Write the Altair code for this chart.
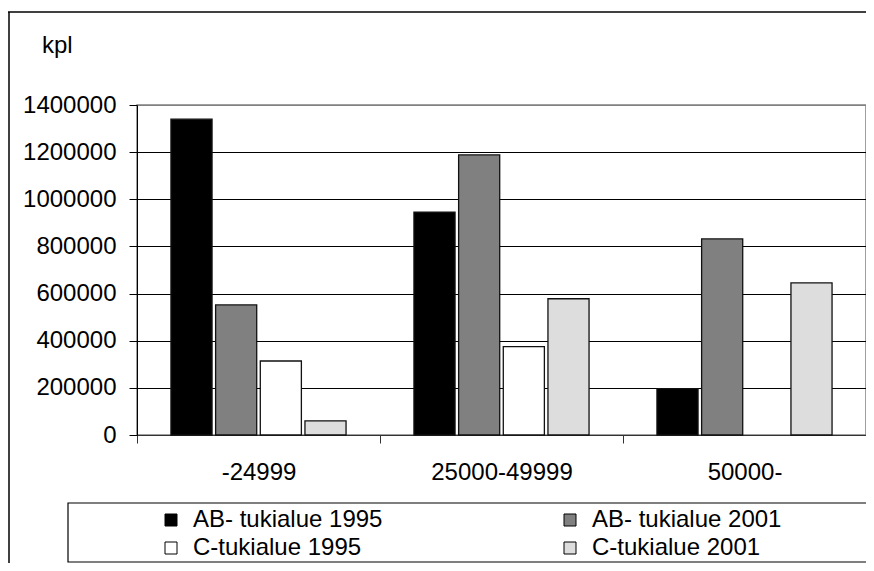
import altair as alt
import pandas as pd

categories = ["-24999", "25000-49999", "50000-"]
series = ["AB- tukialue 1995", "AB- tukialue 2001", "C-tukialue 1995", "C-tukialue 2001"]
ab_1995 = [1340000, 945000, 197000]
ab_2001 = [552000, 1188000, 832000]
c_1995 = [314000, 375000, None]
c_2001 = [60000, 578000, 645000]
colors = ["#000000", "#808080", "#ffffff", "#dddddd"]
y_ticks = [0, 200000, 400000, 600000, 800000, 1000000, 1200000, 1400000]
unit_label = ["kpl"]

rows = []
for s, vals in zip(series, [ab_1995, ab_2001, c_1995, c_2001]):
    for c, v in zip(categories, vals):
        if v is not None:
            rows.append({"category": c, "series": s, "value": v})
df = pd.DataFrame(rows)

FONT = "Liberation Sans"
FS = 24
W, H = 729, 330
PAD_L, PAD_T = 129, 97

bars = alt.Chart(df).mark_bar(stroke="#111111", strokeWidth=1.3).encode(
    x=alt.X(
        "category:N",
        sort=categories,
        scale=alt.Scale(paddingInner=0, paddingOuter=0),
        axis=alt.Axis(
            title=None, labelAngle=0, tickBand="extent", tickSize=8,
            labelPadding=17, labelFont=FONT, labelFontSize=FS, labelColor="black",
            domainColor="#333333", tickColor="#333333", grid=False,
        ),
    ),
    xOffset=alt.XOffset("series:N", sort=series,
                        scale=alt.Scale(paddingInner=0.08, paddingOuter=0.76)),
    y=alt.Y(
        "value:Q",
        scale=alt.Scale(domain=[0, 1400000], nice=False),
        axis=alt.Axis(
            title=None, values=y_ticks, format="d", tickSize=8, labelPadding=13,
            labelFont=FONT, labelFontSize=FS, labelColor="black",
            domainColor="black", tickColor="black",
            grid=True, gridWidth=1,
            gridColor=alt.condition("datum.value == 1400000", alt.value("#808080"), alt.value("black")),
        ),
    ),
    fill=alt.Fill(
        "series:N", sort=series,
        scale=alt.Scale(domain=series, range=colors),
        legend=alt.Legend(
            orient="none", legendX=22, legendY=403, columns=2, direction="horizontal",
            columnPadding=175, rowPadding=4, title=None,
            symbolType="square", symbolSize=144, symbolStrokeColor="black",
            symbolStrokeWidth=1, symbolOpacity=1,
            labelFont=FONT, labelFontSize=FS, labelColor="black", labelOffset=10, labelLimit=0,
        ),
    ),
)

dummy = pd.DataFrame({"a": [0]})

frame_top = alt.Chart(dummy).mark_rule(color="black", strokeWidth=1.5).encode(
    x=alt.value(-129), x2=alt.value(W + 20), y=alt.value(-93)
)
frame_left = alt.Chart(dummy).mark_rule(color="black", strokeWidth=1.5).encode(
    x=alt.value(-128), y=alt.value(-93), y2=alt.value(H + 140)
)
legend_box = alt.Chart(dummy).mark_rect(fillOpacity=0, stroke="black", strokeWidth=1.2).encode(
    x=alt.value(-69), x2=alt.value(W + 6), y=alt.value(398), y2=alt.value(457)
)
kpl = alt.Chart(pd.DataFrame({"t": unit_label})).mark_text(
    font=FONT, fontSize=FS, align="left", baseline="alphabetic", color="black"
).encode(text="t:N", x=alt.value(-95), y=alt.value(-52))

chart = alt.layer(frame_top, frame_left, legend_box, kpl, bars).properties(
    width=W, height=H,
    autosize=alt.AutoSizeParams(type="none"),
    padding={"left": PAD_L, "top": PAD_T, "right": 0, "bottom": 128},
    background="white",
).configure_view(stroke="#808080", strokeWidth=1.5)

chart.save("out.html", embed_options={"renderer": "svg", "actions": False})
